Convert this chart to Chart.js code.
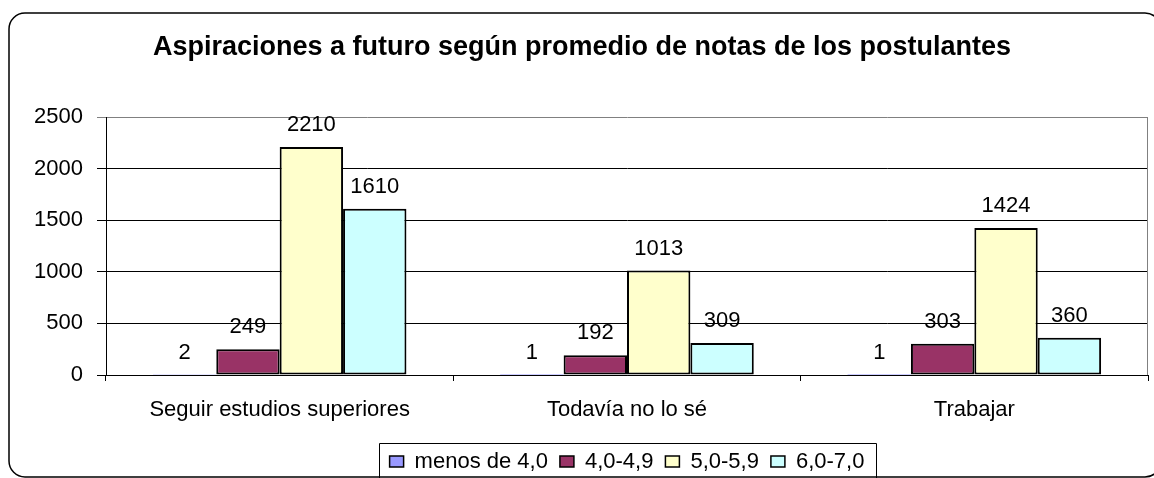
<!DOCTYPE html>
<html>
<head>
<meta charset="utf-8">
<script src="https://cdn.jsdelivr.net/npm/chart.js@4.4.1/dist/chart.umd.min.js"></script>
<style>
  html, body { margin: 0; padding: 0; background: #ffffff; }
  #c { display: block; }
</style>
</head>
<body>
<canvas id="c" width="1154" height="478"></canvas>
<script>
const titleText = "Aspiraciones a futuro según promedio de notas de los postulantes";
const categories = ["Seguir estudios superiores", "Todavía no lo sé", "Trabajar"];
const seriesNames = ["menos de 4,0", "4,0-4,9", "5,0-5,9", "6,0-7,0"];
const menos40 = [2, 1, 1];
const s40_49 = [249, 192, 303];
const s50_59 = [2210, 1013, 1424];
const s60_70 = [1610, 309, 360];
const yTicks = [0, 500, 1000, 1500, 2000, 2500];
const colors = ["#9999FF", "#993366", "#FFFFCC", "#CCFFFF"];

const FONT = "'Liberation Sans', Arial, sans-serif";

const frame = {
  id: 'frame',
  beforeDraw(chart) {
    const ctx = chart.ctx;
    ctx.save();
    ctx.fillStyle = '#ffffff';
    ctx.fillRect(0, 0, chart.width, chart.height);
    const x = 9, y = 13, w = 1152, h = 464, r = 16;
    ctx.beginPath();
    ctx.moveTo(x + r, y);
    ctx.lineTo(x + w - r, y);
    ctx.arcTo(x + w, y, x + w, y + r, r);
    ctx.lineTo(x + w, y + h - r);
    ctx.arcTo(x + w, y + h, x + w - r, y + h, r);
    ctx.lineTo(x + r, y + h);
    ctx.arcTo(x, y + h, x, y + h - r, r);
    ctx.lineTo(x, y + r);
    ctx.arcTo(x, y, x + r, y, r);
    ctx.closePath();
    ctx.lineWidth = 1.5;
    ctx.strokeStyle = '#000000';
    ctx.stroke();
    ctx.restore();
  },
  beforeDatasetsDraw(chart) {
    const {ctx, chartArea} = chart;
    ctx.save();
    ctx.strokeStyle = '#808080';
    ctx.lineWidth = 1;
    ctx.beginPath();
    ctx.moveTo(Math.round(chartArea.right) - 0.5, chartArea.top);
    ctx.lineTo(Math.round(chartArea.right) - 0.5, chartArea.bottom);
    ctx.stroke();
    ctx.restore();
  },
  afterDatasetsDraw(chart) {
    const ctx = chart.ctx;
    ctx.save();
    ctx.font = "22px " + FONT;
    ctx.fillStyle = '#000000';
    ctx.textAlign = 'center';
    ctx.textBaseline = 'middle';
    chart.data.datasets.forEach((ds, i) => {
      const meta = chart.getDatasetMeta(i);
      meta.data.forEach((bar, j) => {
        ctx.fillText(String(ds.data[j]), bar.x, bar.y - 22);
      });
    });
    ctx.restore();
  },
  afterDraw(chart) {
    const lg = chart.legend;
    if (!lg || !lg.legendHitBoxes || !lg.legendHitBoxes.length) return;
    const hb = lg.legendHitBoxes;
    let l = Infinity, r = -Infinity, t = Infinity;
    hb.forEach(b => { l = Math.min(l, b.left); r = Math.max(r, b.left + b.width); t = Math.min(t, b.top); });
    const ctx = chart.ctx;
    ctx.save();
    ctx.strokeStyle = '#000000';
    ctx.lineWidth = 1;
    ctx.beginPath();
    const L = Math.round(l - 11) + 0.5, R = Math.round(r + 12) + 0.5, T = Math.round(t - 8) + 0.5;
    ctx.moveTo(L, chart.height + 5);
    ctx.lineTo(L, T);
    ctx.lineTo(R, T);
    ctx.lineTo(R, chart.height + 5);
    ctx.stroke();
    ctx.restore();
  }
};

new Chart(document.getElementById('c'), {
  type: 'bar',
  data: {
    labels: categories,
    datasets: [
      { label: seriesNames[0], data: menos40 },
      { label: seriesNames[1], data: s40_49 },
      { label: seriesNames[2], data: s50_59 },
      { label: seriesNames[3], data: s60_70 }
    ].map((d, i) => Object.assign(d, {
      backgroundColor: colors[i],
      borderColor: '#000000',
      borderWidth: i === 0 ? 0 : 2,
      borderSkipped: false,
      categoryPercentage: 0.73,
      barPercentage: 1.0
    }))
  },
  options: {
    responsive: false,
    devicePixelRatio: 1,
    animation: false,
    layout: { padding: { left: 16, right: 6, top: 0, bottom: -4.5 } },
    plugins: {
      title: {
        display: true,
        text: titleText,
        color: '#000000',
        font: { family: FONT, size: 27, weight: 'bold', lineHeight: 1.2 },
        padding: { top: 31.6, bottom: 53 }
      },
      legend: {
        display: true,
        position: 'bottom',
        fullSize: false,
        labels: {
          color: '#000000',
          font: { family: FONT, size: 22 },
          boxWidth: 14,
          boxHeight: 11,
          padding: 12,
          generateLabels(chart) {
            return chart.data.datasets.map((ds, i) => ({
              text: ds.label,
              fillStyle: ds.backgroundColor,
              strokeStyle: '#000000',
              lineWidth: 1.5,
              fontColor: '#000000',
              datasetIndex: i,
              hidden: false
            }));
          }
        }
      },
      tooltip: { enabled: false }
    },
    scales: {
      x: {
        offset: true,
        grid: {
          display: true,
          offset: true,
          drawOnChartArea: false,
          drawTicks: true,
          tickLength: 6,
          color: '#000000'
        },
        border: { display: true, color: '#000000', width: 1 },
        ticks: {
          color: '#000000',
          font: { family: FONT, size: 22 },
          padding: 16,
          maxRotation: 0
        },
        afterFit(scale) { scale.height = 63.5; }
      },
      y: {
        min: 0,
        max: 2500,
        afterBuildTicks(scale) { scale.ticks = yTicks.map(v => ({ value: v })); },
        grid: {
          color: (c) => (c.tick && c.tick.value === 2500) ? '#808080' : '#000000',
          lineWidth: 1,
          tickLength: 9,
          drawTicks: true
        },
        border: { display: true, color: '#000000', width: 1 },
        ticks: {
          color: '#000000',
          font: { family: FONT, size: 22 },
          padding: 14,
          callback: (v) => String(v)
        },
        afterFit(scale) { scale.width = 90; }
      }
    }
  },
  plugins: [frame]
});
</script>
</body>
</html>
